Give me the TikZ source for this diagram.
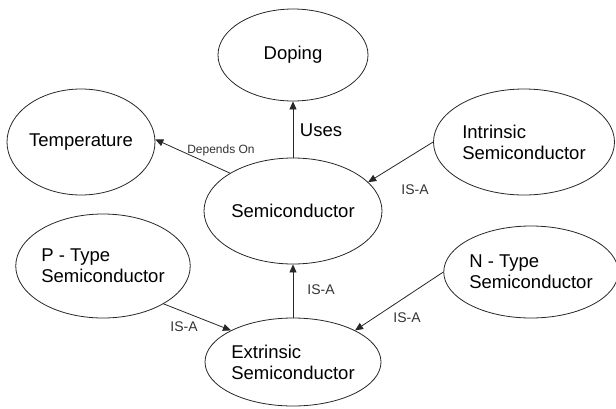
\documentclass[tikz,border=0pt]{standalone}
\usepackage{fontspec}
\setmainfont{Liberation Sans}
\usetikzlibrary{shapes.geometric,arrows.meta}

\begin{document}
\begin{tikzpicture}[x=1pt, y=-1pt,
		bubble/.style={ellipse, draw=black!85, line width=0.8pt, inner sep=0pt, font=\fontsize{18.5}{21}\selectfont, align=left},
		rel/.style={draw=black!85, line width=0.8pt, -{Triangle[length=8pt,width=7pt]}},
		tag/.style={font=\fontsize{14}{16}\selectfont, text=black!80}]
		%%%%% START %%%%%
		
		\useasboundingbox (0, 0) rectangle (616, 408);
		
		\node[bubble, minimum width=150pt, minimum height=92pt] (doping) at (293, 55) {Doping};
		\node[bubble, minimum width=148pt, minimum height=106pt] (temp) at (81, 142) {Temperature};
		\node[bubble, minimum width=181pt, minimum height=106pt] (intr) at (524, 142) {Intrinsic\\Semiconductor};
		\node[bubble, minimum width=178pt, minimum height=106pt] (semi) at (293, 211) {Semiconductor};
		\node[bubble, minimum width=170pt, minimum height=104pt] (ptype) at (103, 266) {P - Type\\Semiconductor};
		\node[bubble, minimum width=168pt, minimum height=92pt] (ntype) at (531, 272) {N - Type\\Semiconductor};
		\node[bubble, minimum width=176pt, minimum height=88pt] (extr) at (293, 362) {Extrinsic\\Semiconductor};
		
		\draw[rel] (semi.north) -- (doping.south);
		\draw[rel] (semi.149) -- (temp.2);
		\draw[rel] (intr.180) -- (semi.21);
		\draw[rel] (extr.north) -- (semi.south);
		\draw[rel] (ptype.-32) -- (extr.153);
		\draw[rel] (ntype.180) -- (extr.27);
		
		\node[font=\fontsize{18.5}{21}\selectfont] (uses) at (321, 130) {Uses};
		\node[tag, font=\fontsize{12}{14}\selectfont] (dep) at (221, 150) {Depends On};
		\node[tag] (isa1) at (415, 190) {IS-A};
		\node[tag] (isa2) at (321, 290) {IS-A};
		\node[tag] (isa3) at (407, 318) {IS-A};
		\node[tag] (isa4) at (184, 327) {IS-A};
		
		%%%%% END %%%%%
	\end{tikzpicture}
\end{document}
